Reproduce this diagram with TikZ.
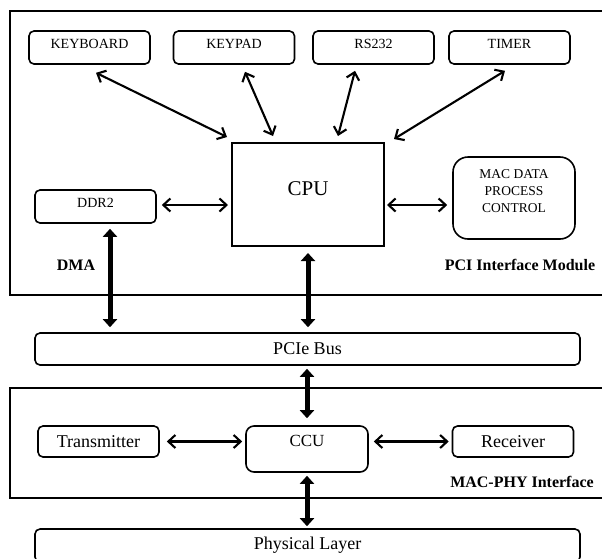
\documentclass[tikz,border=0pt]{standalone}
\usepackage{fontspec}
\setmainfont{Liberation Serif}
\usetikzlibrary{arrows.meta}

\begin{document}
\begin{tikzpicture}[x=1pt,y=-1pt,
        box/.style={draw, line width=1.6pt, rounded corners=5pt, inner sep=0pt},
        unit/.style={box, minimum width=121pt, minimum height=33pt, font=\fontsize{14}{16}\selectfont, text height=9.5pt, text depth=7pt},
        wide/.style={box, minimum width=545pt, minimum height=32pt, font=\fontsize{18}{20}\selectfont},
        phyunit/.style={box, minimum width=121pt, minimum height=31pt, font=\fontsize{18}{20}\selectfont},
        link/.style={line width=2.1pt, {Straight Barb[length=7pt,width=13pt]}-{Straight Barb[length=7pt,width=13pt]}},
        bus/.style={line width=5pt, {Triangle[length=8pt,width=14pt]}-{Triangle[length=8pt,width=14pt]}},
        tag/.style={font=\bfseries\fontsize{16}{18}\selectfont}
    ]
                    \useasboundingbox (0,0) rectangle (602,558);
                    \clip (0,0) rectangle (602,558);

%                    PCI interface module
                    \draw[line width=2pt] (10,11) rectangle (612,295);
                    \foreach \name/\txt/\x in {kbd/KEYBOARD/89.5, keypad/KEYPAD/234, rs/RS232/373.5, timer/TIMER/509.5} {
                        \node[unit] (\name) at (\x,47.5) {\txt};
                    }
                    \node[draw, line width=2pt, minimum width=152pt, minimum height=103pt, inner sep=0pt,
                          font=\fontsize{21}{24}\selectfont, text height=14pt, text depth=13pt] (cpu) at (308,194.5) {CPU};
                    \node[unit] (ddr) at (95.5,206.5) {DDR2};
                    \node[box, rounded corners=15pt, minimum width=122pt, minimum height=82pt, align=center,
                          font=\fontsize{13.5}{17}\selectfont] (mac) at (514,198) {MAC DATA\\PROCESS\\CONTROL\\[-3pt]};
                    \node[tag] (dmalbl) at (76,265) {DMA};
                    \node[tag] (pcilbl) at (520,265) {PCI Interface Module};

%                    bus
                    \node[wide] (pcie) at (307.5,349) {PCIe Bus};

%                    MAC-PHY interface
                    \draw[line width=2pt] (10,388) rectangle (612,498);
                    \node[phyunit] (tx) at (98.5,441.5) {Transmitter};
                    \node[box, rounded corners=8pt, minimum width=122pt, minimum height=46pt,
                          font=\fontsize{17}{20}\selectfont, text height=11.5pt, text depth=16pt] (ccu) at (307,449) {CCU};
                    \node[phyunit] (rx) at (513,441.5) {Receiver};
                    \node[tag] (phylbl) at (522,482) {MAC-PHY Interface};

                    \node[wide, minimum height=33pt] (phy) at (307.5,545.5) {Physical Layer};

%                    peripherals
                    \draw[link] ([shift={(6.5,8)}]kbd.south) -- ([shift={(-4,-5)}]cpu.north west);
                    \draw[link] ([shift={(11,7)}]keypad.south) -- ([shift={(-35,-6)}]cpu.north);
                    \draw[link] ([shift={(-18.5,6)}]rs.south) -- ([shift={(30,-6)}]cpu.north);
                    \draw[link] ([shift={(-4.5,6)}]timer.south) -- ([shift={(9,-3)}]cpu.north east);

                    \coordinate (lvl) at ([shift={(0,10.5)}]cpu.west);
                    \draw[link, shorten <=5pt, shorten >=3pt] (lvl -| ddr.east) -- (lvl);
                    \draw[link, shorten <=2pt, shorten >=5pt] (lvl -| cpu.east) -- (lvl -| mac.west);

%                    thick ones
                    \coordinate (dma) at ([shift={(14.5,0)}]ddr.south);
                    \draw[bus, shorten <=5pt, shorten >=5pt] (dma) -- (dma |- pcie.north);
                    \draw[bus, shorten <=6pt, shorten >=5pt] (cpu.south) -- (cpu.south |- pcie.north);
                    \draw[bus, shorten <=3pt, shorten >=7pt] (pcie.south -| ccu.north) -- (ccu.north);
                    \draw[bus, shorten <=3pt, shorten >=2pt] (ccu.south) -- (ccu.south |- phy.north);

                    \draw[link, shorten <=7pt, shorten >=3pt] (tx.east) -- (tx.east -| ccu.west);
                    \draw[link, shorten <=5pt, shorten >=3pt] (rx.west -| ccu.east) -- (rx.west);
                \end{tikzpicture}
\end{document}
